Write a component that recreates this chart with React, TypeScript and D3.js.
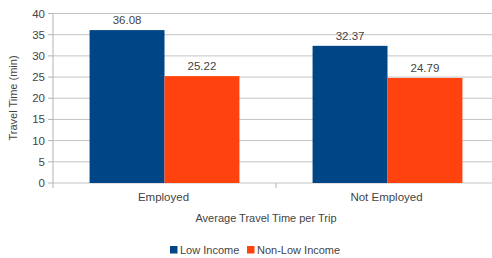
import * as d3 from 'd3';

const categories = ['Employed', 'Not Employed'];
const seriesNames = ['Low Income', 'Non-Low Income'];
const lowIncome = [36.08, 32.37];
const nonLowIncome = [25.22, 24.79];
const yTicks = [0, 5, 10, 15, 20, 25, 30, 35, 40];

const colors = ['#004586', '#ff420e'];
const W = 492;
const H = 258;
const FONT = '"Liberation Sans", Arial, sans-serif';

export default function App() {
  const left = 53;
  const x = d3.scaleBand<string>().domain(categories).range([left, 499]).padding(0);
  const y = d3.scaleLinear().domain([0, 40]).range([183, 13.5]);
  const groupW = x.bandwidth() * 0.672;
  const inner = d3.scaleBand<number>().domain([0, 1]).range([0, groupW]).padding(0);
  const values = [lowIncome, nonLowIncome];

  return (
    <svg width={W} height={H} style={{ position: 'absolute', left: 0, top: 0, fontFamily: FONT }}>
      <rect width={W} height={H} fill="#fff" />
      {yTicks.map(t => (
        <g key={t}>
          <line x1={left} x2={W} y1={y(t)} y2={y(t)} stroke="#c4c4c4" strokeWidth={1} />
          <line x1={left - 5} x2={left} y1={y(t)} y2={y(t)} stroke="#b3b3b3" />
          <text x={left - 8} y={y(t)} dy="0.35em" textAnchor="end" fontSize={11.5} fill="#444">{t}</text>
        </g>
      ))}
      <line x1={left} x2={left} y1={y(40)} y2={y(0) + 5} stroke="#b3b3b3" />
      {categories.slice(1).map(c => (
        <line key={c} x1={x(c)} x2={x(c)} y1={y(0)} y2={y(0) + 5} stroke="#b3b3b3" />
      ))}
      {categories.map((c, i) => {
        const gx = (x(c) as number) + (x.bandwidth() - groupW) / 2;
        return (
          <g key={c}>
            {values.map((vals, s) => {
              const bx = gx + (inner(s) as number);
              return (
                <g key={s}>
                  <rect x={bx} y={y(vals[i])} width={inner.bandwidth()} height={y(0) - y(vals[i])} fill={colors[s]} />
                  <text x={bx + inner.bandwidth() / 2} y={y(vals[i]) - 6} textAnchor="middle" fontSize={11.5} fill="#444">
                    {vals[i].toFixed(2)}
                  </text>
                </g>
              );
            })}
            <text x={(x(c) as number) + x.bandwidth() / 2 - 1} y={201} textAnchor="middle" fontSize={11.5} fill="#444">{c}</text>
          </g>
        );
      })}
      <text x={266} y={222} textAnchor="middle" fontSize={11} fill="#444">Average Travel Time per Trip</text>
      <text transform={`translate(17,${98}) rotate(-90)`} textAnchor="middle" fontSize={11} fill="#444">Travel Time (min)</text>
      <g>
        <rect x={170} y={246} width={7.5} height={7.5} fill={colors[0]} />
        <text x={180} y={253.5} fontSize={11} fill="#444">{seriesNames[0]}</text>
        <rect x={247} y={246} width={7.5} height={7.5} fill={colors[1]} />
        <text x={257} y={253.5} fontSize={11} fill="#444">{seriesNames[1]}</text>
      </g>
    </svg>
  );
}
